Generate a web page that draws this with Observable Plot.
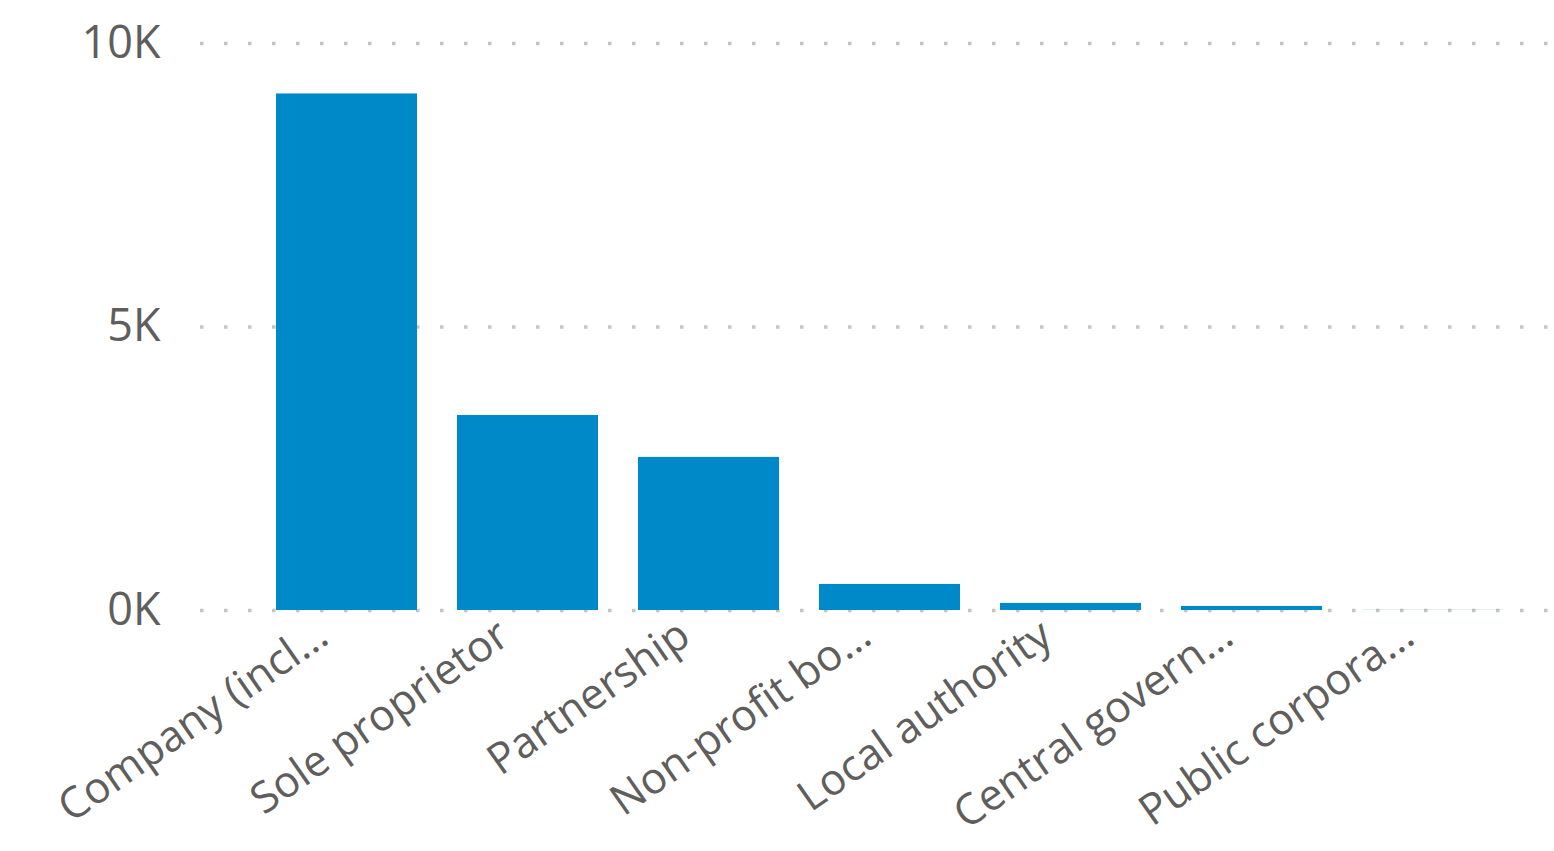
<!DOCTYPE html>
<html>
<head>
<meta charset="utf-8">
<script src="https://cdn.jsdelivr.net/npm/d3@7"></script>
<script src="https://cdn.jsdelivr.net/npm/@observablehq/plot@0.6"></script>
<style>
  html, body { margin: 0; padding: 0; background: #fff; }
  #chart svg { display: block; }
</style>
</head>
<body>
<div id="chart"></div>
<script>
const categories = ["Company (incl…", "Sole proprietor", "Partnership", "Non-profit bo…", "Local authority", "Central govern…", "Public corpora…"];
const values = [9110, 3440, 2700, 460, 125, 72, 2];
const yTicks = [0, 5000, 10000];
const yTickLabels = ["0K", "5K", "10K"];

const data = categories.map((c, i) => ({category: c, value: values[i]}));

const chart = Plot.plot({
  width: 1554,
  height: 851,
  marginTop: 43,
  marginBottom: 241,
  marginLeft: 200,
  marginRight: 0,
  style: {fontFamily: "'Open Sans', sans-serif", color: "#605e5c", background: "#fff"},
  x: {domain: categories, range: [234, 1545], padding: 0.22, label: null},
  y: {domain: [0, 10000], label: null},
  marks: [
    Plot.ruleY(yTicks, {stroke: "#c4c4c4", strokeWidth: 3.5, strokeDasharray: "3.5,20.5", strokeOpacity: 1}),
    Plot.barY(data, {x: "category", y: "value", fill: "#0089c9"}),
    Plot.axisY(yTicks, {tickSize: 0, tickPadding: 40, fontSize: 45, tickFormat: (d, i) => yTickLabels[yTicks.indexOf(d)], label: null}),
    Plot.axisX({tickSize: 0, tickPadding: 12, tickRotate: -35, fontSize: 43, dx: -24, dy: 8, label: null})
  ]
});
document.getElementById("chart").appendChild(chart);
</script>
</body>
</html>
